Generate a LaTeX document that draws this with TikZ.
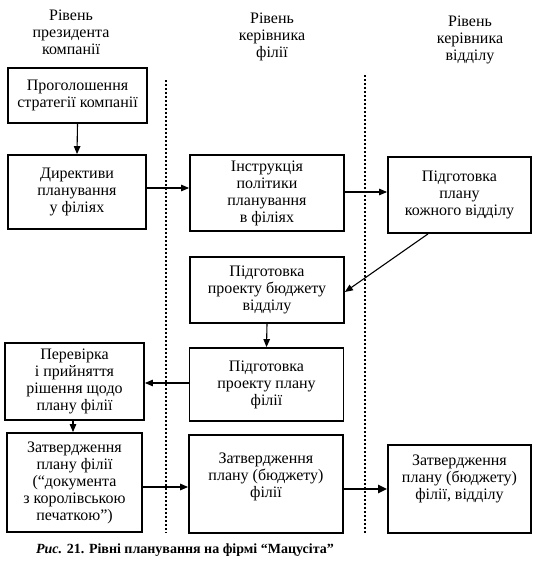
\documentclass[tikz,border=0pt]{standalone}
\usepackage{fontspec}
\setmainfont{Liberation Serif}
\usetikzlibrary{arrows.meta}
\begin{document}
\begin{tikzpicture}[x=1pt,y=-1pt,
  font=\rmfamily\fontsize{16}{17}\selectfont,
  boxst/.style={draw,line width=1.8pt,align=center,inner sep=2pt},
  lbl/.style={align=center,font=\rmfamily\fontsize{16}{17}\selectfont},
  hdr/.style={align=center,font=\rmfamily\fontsize{16}{17}\selectfont},
  arr/.style={line width=1.1pt,-{Triangle[length=8pt,width=6.5pt]}},
  thickarr/.style={line width=2.8pt,-{Triangle[length=9pt,width=8pt]}},
  sep/.style={line width=2.4pt,dash pattern=on 2.4pt off 1.6pt}]
\useasboundingbox (0,0) rectangle (538,565);
% headers
\node[hdr] (h1) at (71,32) {Рівень\\президента\\компанії};
\node[hdr] (h2) at (272,37) {Рівень\\керівника\\філії};
\node[hdr] (h3) at (470,40) {Рівень\\керівника\\відділу};
% separators
\coordinate (s1a) at (166,80); \coordinate (s1b) at (166,533);
\coordinate (s2a) at (365,75); \coordinate (s2b) at (365,533);
\draw[sep] (s1a) -- (s1b);
\draw[sep] (s2a) -- (s2b);
% boxes
\node[boxst,minimum width=139pt,minimum height=55pt] (b1) at (77.5,95.5) {Проголошення\\стратегії компанії};
\node[boxst,minimum width=138pt,minimum height=74pt] (b2) at (77,192) {Директиви\\планування\\у філіях};
\node[boxst,minimum width=154pt,minimum height=76pt] (b3) at (267,193) {Інструкція\\політики\\планування\\в філіях};
\node[boxst,minimum width=143pt,minimum height=76pt] (b4) at (459.5,195) {Підготовка\\плану\\кожного відділу};
\node[boxst,minimum width=154pt,minimum height=66pt] (b5) at (267,290) {Підготовка\\проекту бюджету\\відділу};
\node[boxst,minimum width=154pt,minimum height=73pt] (b6) at (266.5,384.5) {Підготовка\\проекту плану\\філії};
\node[boxst,minimum width=139pt,minimum height=77pt] (b7) at (74.5,381.5) {Перевірка\\і прийняття\\рішення щодо\\плану філії};
\node[boxst,minimum width=135pt,minimum height=99pt] (b8) at (74.5,482.5) {Затвердження\\плану філії\\(“документа\\з королівською\\печаткою”)};
\node[boxst,minimum width=154pt,minimum height=98pt,
  label={[lbl,yshift=7pt]center:{Затвердження\\плану (бюджету)\\філії}}] (b9) at (266,484) {};
\node[boxst,minimum width=143pt,minimum height=88pt,
  label={[lbl,yshift=10pt]center:{Затвердження\\плану (бюджету)\\філії, відділу}}] (b10) at (459.5,489) {};
% arrows
\draw[arr] (b1.south) -- (b2.north);
\draw[arr] (b2.east |- 0,188) -- (b3.west |- 0,188);
\draw[arr] (b3.east |- 0,192) -- (b4.west |- 0,192);
\draw[arr] (b4.south -| 428,0) -- (b5.east |- 0,292);
\draw[arr] (b5.south) -- (b6.north);
\draw[arr] (b6.west |- 0,383) -- (b7.east |- 0,383);
\draw[arr] (b7.south -| 73,0) -- (b8.north -| 73,0);
\draw[arr,line width=1.4pt] (b8.east |- 0,487) -- (b9.west |- 0,487);
\draw[thickarr] (b9.east |- 0,489) -- (b10.west |- 0,489);
% caption
\node[font=\rmfamily\bfseries\fontsize{14}{15}\selectfont] (cap) at (185,550) {\textit{Рис.} 21. Рівні планування на фірмі “Мацусіта”};
\end{tikzpicture}
\end{document}
